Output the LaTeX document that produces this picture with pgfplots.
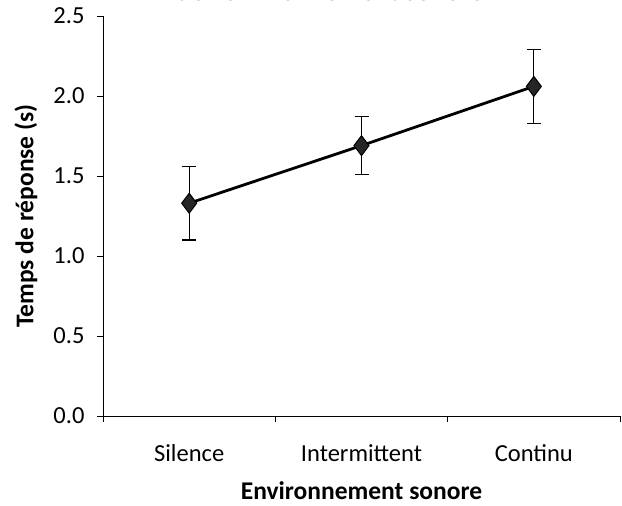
\documentclass[border=0pt]{standalone}
\usepackage{fontspec}
\setmainfont{Carlito}
\usepackage{pgfplots}
\pgfplotsset{compat=1.18}

\begin{document}
\begin{tikzpicture}[x=1pt,y=1pt]
  % title of the original, almost entirely cut off at the top edge
  \node[font=\fontsize{27.5}{33}\selectfont\bfseries, anchor=base] at (330,505.6)
    {de l'environnement sonore};

  \begin{axis}[
      at={(103pt,90pt)}, anchor=south west,
      scale only axis,
      width=517pt, height=400pt,
      xmin=0, xmax=3,
      ymin=0, ymax=2.5,
      axis lines*=left,
      axis line style={-, line width=0.9pt},
      tick align=outside,
      major tick length=6pt,
      tick style={black, line width=0.9pt},
      xtick={0,1,2,3},
      xticklabels={},
      extra x ticks={0.5,1.5,2.5},
      extra x tick labels={Silence,Intermittent,Continu},
      extra x tick style={major tick length=0pt,
        tick label style={anchor=base, yshift=-46pt}},
      ytick={0,0.5,1,1.5,2,2.5},
      yticklabel style={xshift=-9pt,
        /pgf/number format/.cd, fixed, fixed zerofill, precision=1},
      /pgf/number format/assume math mode=true,
      ticklabel style={font=\fontsize{24.5}{29}\selectfont},
      xlabel={\textbf{Environnement sonore}},
      ylabel={\textbf{Temps de réponse (s)}},
      label style={font=\fontsize{25.5}{30}\selectfont},
      xlabel style={at={(axis description cs:0.5,0)}, anchor=base, yshift=-84pt},
      ylabel style={at={(axis description cs:-0.149,0.5)}, anchor=center},
      clip=false,
    ]
    \addplot[
        black, line width=2.8pt,
        mark=diamond*, mark size=10pt,
        mark options={fill=black!85, draw=black, line width=1pt},
        error bars/.cd,
          y dir=both, y explicit,
          error bar style={line width=1.3pt},
          error mark options={rotate=90, mark size=7pt, line width=1.3pt},
      ]
      coordinates {
        (0.5,1.33) +- (0,0.23)
        (1.5,1.69) +- (0,0.18)
        (2.5,2.06) +- (0,0.23)
      };
  \end{axis}

  \pgfresetboundingbox
  \path[use as bounding box] (0,0) rectangle (622,506);
\end{tikzpicture}
\end{document}
